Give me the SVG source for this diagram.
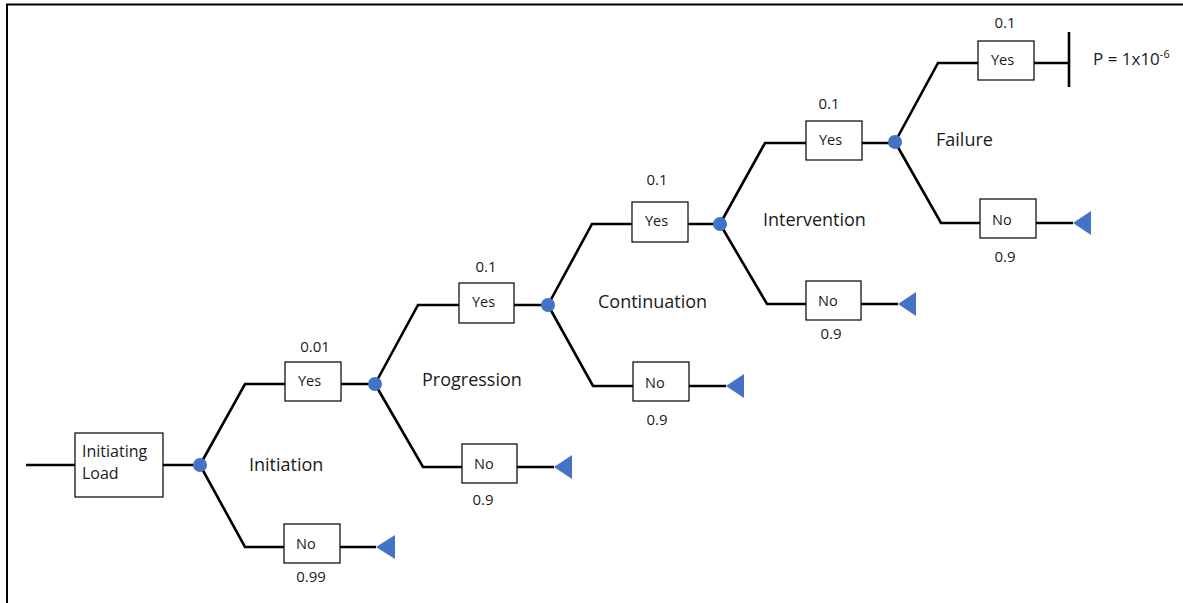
<svg xmlns="http://www.w3.org/2000/svg" width="1183" height="603" viewBox="0 0 1183 603">
<style>
.w{fill:none;stroke:#000;stroke-width:2.6;stroke-linejoin:miter}
.b{fill:#fff;stroke:#000;stroke-width:1.2}
.n{fill:#4472C4}
.t{fill:#4472C4}
text{font-family:"Open Sans","Noto Sans",sans-serif;fill:#1a1a1a}
.s{font-size:14.5px}
.q{font-size:15px}
.c{text-anchor:middle}
.p{font-size:18px}
</style>
<rect width="1183" height="603" fill="#fff"/>
<path d="M7,610 V4.5 H1190" fill="none" stroke="#000" stroke-width="2"/>
<g id="connectors">
<path class="w" d="M26,465 H75 M163,465 H200"/>
<path class="w" d="M200,465 L245,384 H285 M341,384 H375"/>
<path class="w" d="M200,465 L245,547 H284 M340,547 H376"/>
<path class="w" d="M375,384 L418,305 H459 M514,305 H548"/>
<path class="w" d="M375,384 L423,467 H462 M517,467 H554"/>
<path class="w" d="M548,305 L592,224 H632 M688,224 H720"/>
<path class="w" d="M548,305 L593,386 H633 M689,386 H726"/>
<path class="w" d="M720,224 L765,143 H806 M862,143 H895"/>
<path class="w" d="M720,224 L767,304 H806 M861,304 H898"/>
<path class="w" d="M895,142 L938,63 H978 M1034,63 H1069 M1069,32 V87"/>
<path class="w" d="M895,142 L941,223 H980 M1036,223 H1073"/>
</g>
<g id="n0"><rect class="b" x="75" y="433" width="88" height="64"/><text x="82" y="457" style="font-size:16px">Initiating</text><text x="82" y="479" style="font-size:16px">Load</text></g>
<g id="d0"><circle class="n" cx="200" cy="465" r="7"/></g>
<g id="d1"><circle class="n" cx="375" cy="384" r="7"/></g>
<g id="d2"><circle class="n" cx="548" cy="305" r="7"/></g>
<g id="d3"><circle class="n" cx="720" cy="224" r="7"/></g>
<g id="d4"><circle class="n" cx="895" cy="142" r="7"/></g>
<g id="y1"><rect class="b" x="285" y="362" width="56" height="39"/><text class="s" x="298" y="386">Yes</text><text class="q c" x="315" y="352">0.01</text></g>
<g id="no1"><rect class="b" x="284" y="524" width="56" height="39"/><text class="s" x="296" y="549">No</text><text class="q c" x="311" y="582">0.99</text><polygon class="t" points="376,547 395,535 395,559"/></g>
<g id="y2"><rect class="b" x="459" y="283" width="55" height="40"/><text class="s" x="472" y="307">Yes</text><text class="q c" x="486" y="272">0.1</text></g>
<g id="no2"><rect class="b" x="462" y="444" width="55" height="39"/><text class="s" x="474" y="469">No</text><text class="q c" x="483" y="505">0.9</text><polygon class="t" points="554,467 572,455 572,479"/></g>
<g id="y3"><rect class="b" x="632" y="202" width="56" height="40"/><text class="s" x="645" y="226">Yes</text><text class="q c" x="657" y="185">0.1</text></g>
<g id="no3"><rect class="b" x="633" y="362" width="56" height="39"/><text class="s" x="645" y="388">No</text><text class="q c" x="657" y="425">0.9</text><polygon class="t" points="726,386 744,374 744,398"/></g>
<g id="y4"><rect class="b" x="806" y="121" width="56" height="39"/><text class="s" x="819" y="145">Yes</text><text class="q c" x="829" y="109">0.1</text></g>
<g id="no4"><rect class="b" x="806" y="281" width="55" height="39"/><text class="s" x="818" y="306">No</text><text class="q c" x="831" y="339">0.9</text><polygon class="t" points="898,304 916,292 916,316"/></g>
<g id="y5"><rect class="b" x="978" y="41" width="56" height="39"/><text class="s" x="991" y="65">Yes</text><text class="q c" x="1005" y="28">0.1</text></g>
<g id="no5"><rect class="b" x="980" y="199" width="56" height="39"/><text class="s" x="992" y="225">No</text><text class="q c" x="1005" y="262">0.9</text><polygon class="t" points="1073,223 1091,211 1091,235"/></g>
<g id="result"><text x="1093" y="65" style="font-size:17px">P = 1x10<tspan dy="-7" style="font-size:11px">-6</tspan></text></g>
<g id="phases">
<text class="p" x="249" y="471">Initiation</text>
<text class="p" x="422" y="386">Progression</text>
<text class="p" x="598" y="308">Continuation</text>
<text class="p" x="763" y="226">Intervention</text>
<text class="p" x="936" y="146">Failure</text>
</g>
</svg>
